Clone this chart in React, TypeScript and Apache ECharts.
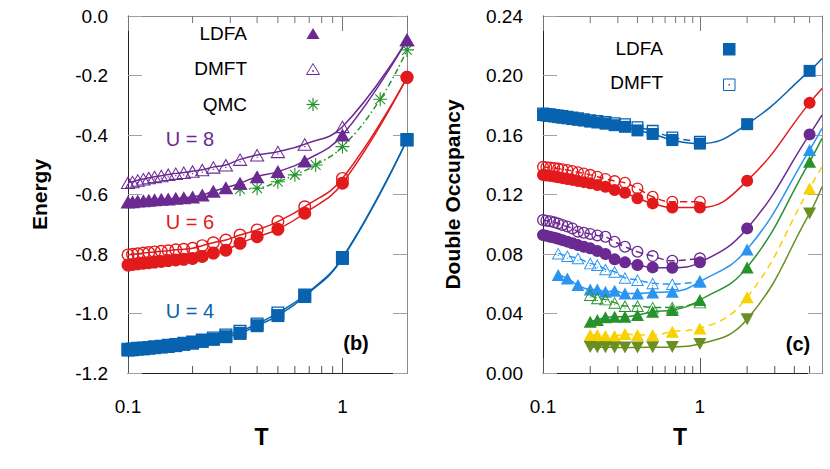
import React, { useEffect, useRef } from 'react';
import * as echarts from 'echarts';

const FONT = "'Liberation Sans', Arial, Helvetica, sans-serif";

// ---------- colours ----------
const BLUE = '#0763b0';
const RED = '#e31a1c';
const PURPLE = '#6a2a92';
const GREEN = '#26922c';
const LBLUE = '#2a95f0';
const YELLOW = '#f9d000';
const OLIVE = '#6b8e23';

// ---------- panel (b): Energy vs T ----------
const T_B = [0.1, 0.105, 0.111, 0.118, 0.125, 0.133, 0.143, 0.154, 0.167, 0.182, 0.2, 0.222, 0.25, 0.286, 0.333, 0.4, 0.5, 0.667, 1, 2];
const T_QMC = [0.333, 0.4, 0.5, 0.6, 0.75, 1, 1.5, 2];

const E_U8_DMFT = [-0.56, -0.557, -0.552, -0.548, -0.544, -0.54, -0.537, -0.533, -0.529, -0.526, -0.522, -0.517, -0.508, -0.501, -0.482, -0.467, -0.456, -0.431, -0.372, -0.08];
const E_U8_LDFA = [-0.625, -0.624, -0.622, -0.621, -0.619, -0.618, -0.616, -0.615, -0.613, -0.611, -0.608, -0.602, -0.589, -0.577, -0.562, -0.54, -0.523, -0.487, -0.4, -0.08];
const E_U8_QMC = [-0.582, -0.579, -0.557, -0.534, -0.501, -0.439, -0.28, -0.114];
const E_U6_DMFT = [-0.803, -0.801, -0.799, -0.797, -0.795, -0.793, -0.791, -0.789, -0.786, -0.784, -0.781, -0.772, -0.762, -0.753, -0.736, -0.719, -0.691, -0.641, -0.546, -0.206];
const E_U6_LDFA = [-0.837, -0.835, -0.833, -0.831, -0.829, -0.827, -0.825, -0.822, -0.82, -0.818, -0.815, -0.808, -0.797, -0.787, -0.764, -0.742, -0.717, -0.663, -0.562, -0.206];
const E_U4_DMFT = [-1.12, -1.119, -1.117, -1.116, -1.114, -1.112, -1.11, -1.107, -1.104, -1.1, -1.096, -1.089, -1.082, -1.072, -1.06, -1.035, -0.998, -0.938, -0.812, -0.415];
const E_U4_LDFA = [-1.123, -1.122, -1.12, -1.119, -1.117, -1.115, -1.113, -1.111, -1.108, -1.104, -1.1, -1.094, -1.087, -1.078, -1.067, -1.041, -1.007, -0.943, -0.815, -0.417];

// ---------- panel (c): Double occupancy vs T ----------
const T_C = [0.1, 0.105, 0.111, 0.118, 0.125, 0.133, 0.143, 0.154, 0.167, 0.182, 0.2, 0.222, 0.25, 0.286, 0.333, 0.4, 0.5, 0.667, 1, 2, 5];
const T_C_DMFT = [0.1, 0.105, 0.111, 0.118, 0.125, 0.133, 0.143, 0.154, 0.167, 0.182, 0.2, 0.222, 0.25, 0.286, 0.333, 0.4, 0.5, 0.667, 1];
const T_C_MID = [0.125, 0.143, 0.167, 0.2, 0.222, 0.25, 0.286, 0.333, 0.4, 0.5, 0.667, 1, 2, 5];
const T_C_MID_DMFT = [0.125, 0.143, 0.167, 0.2, 0.222, 0.25, 0.286, 0.333, 0.4, 0.5, 0.667, 1];
const T_C_LOW = [0.2, 0.222, 0.25, 0.286, 0.333, 0.4, 0.5, 0.667, 1, 2, 5];
const T_C_LOW_DMFT = [0.2, 0.222, 0.25, 0.286, 0.333, 0.4, 0.5, 0.667, 1];
const T_EDGE = 6;

const D_BLUE_LDFA = [0.1734, 0.1731, 0.1728, 0.1724, 0.172, 0.1716, 0.1712, 0.1707, 0.1702, 0.1697, 0.169, 0.1684, 0.1676, 0.1666, 0.1655, 0.1631, 0.1607, 0.1566, 0.1542, 0.1673, 0.2031];
const D_BLUE_DMFT = [0.1745, 0.1742, 0.1739, 0.1735, 0.1731, 0.1727, 0.1722, 0.1717, 0.1712, 0.1706, 0.17, 0.1694, 0.1687, 0.1679, 0.1672, 0.1652, 0.1628, 0.1584, 0.1555];
const D_RED_LDFA = [0.1331, 0.1328, 0.1325, 0.1321, 0.1316, 0.131, 0.1304, 0.1298, 0.129, 0.1283, 0.1275, 0.1264, 0.1252, 0.123, 0.1212, 0.1174, 0.114, 0.1113, 0.1113, 0.1292, 0.1816];
const D_RED_DMFT = [0.1386, 0.1384, 0.1381, 0.1378, 0.1374, 0.137, 0.1365, 0.1358, 0.135, 0.1342, 0.1332, 0.132, 0.1305, 0.129, 0.1279, 0.1241, 0.1185, 0.1151, 0.1151];
const D_PURPLE_LDFA = [0.0927, 0.0922, 0.0916, 0.091, 0.0902, 0.0893, 0.0883, 0.0872, 0.086, 0.0849, 0.0838, 0.082, 0.08, 0.0764, 0.0744, 0.0726, 0.071, 0.0708, 0.0744, 0.0972, 0.1604];
const D_PURPLE_DMFT = [0.1028, 0.1024, 0.102, 0.1013, 0.1005, 0.0995, 0.0985, 0.0972, 0.095, 0.0943, 0.0935, 0.0925, 0.0916, 0.0882, 0.0849, 0.0815, 0.0786, 0.0755, 0.0771];
const D_LBLUE_LDFA = [0.0659, 0.0636, 0.0591, 0.0562, 0.0562, 0.0546, 0.0553, 0.0535, 0.0535, 0.0542, 0.0546, 0.0614, 0.0831, 0.1499];
const D_LBLUE_DMFT = [0.0804, 0.0786, 0.0771, 0.0737, 0.0726, 0.0697, 0.0681, 0.064, 0.0625, 0.0603, 0.0598, 0.0618];
const D_GREEN_LDFA = [0.0345, 0.0356, 0.0374, 0.0378, 0.0378, 0.039, 0.0412, 0.0423, 0.049, 0.071, 0.142];
const D_GREEN_DMFT = [0.0524, 0.0502, 0.0495, 0.0473, 0.045, 0.045, 0.0441, 0.0441, 0.0475];
const D_YELLOW = [0.0255, 0.0255, 0.0249, 0.0249, 0.0262, 0.0255, 0.0255, 0.0278, 0.03, 0.0509, 0.1241];
const D_OLIVE = [0.0175, 0.0173, 0.0173, 0.0172, 0.0172, 0.0172, 0.0173, 0.0175, 0.0195, 0.0361, 0.1073];
// where the curves leave the frame at T = 6
const D_TAIL = { blue: 0.2115, red: 0.1913, purple: 0.1734, lblue: 0.1644, green: 0.1577, yellow: 0.1386, olive: 0.1252 };

// ---------- axes ----------
const X_LABELS = ['0.1', '1'];
const X_MAJOR = [0.1, 1];
const MINOR_B = [0.2, 0.3, 0.4, 0.5, 0.6, 0.7, 0.8, 0.9];
const MINOR_C = [0.2, 0.3, 0.4, 0.5, 0.6, 0.7, 0.8, 0.9, 2, 3, 4, 5];
const B_X = [0.1, 2];
const C_X = [0.1, 6];
const B_Y = [-1.2, 0];
const C_Y = [0, 0.24];

// ---------- symbols ----------
const SYM_OPEN_TRI_DOT = 'path://M50 0L100 87L0 87ZM50 14L12 80L88 80ZM46 55L54 55L54 63L46 63Z';
const SYM_OPEN_SQ = 'path://M0 0L100 0L100 100L0 100ZM11 11L11 89L89 89L89 11Z';
const SYM_OPEN_SQ_DOT = 'path://M0 0L100 0L100 100L0 100ZM11 11L11 89L89 89L89 11ZM44 44L56 44L56 56L44 56Z';
const SYM_OPEN_CIRC = 'path://M0 50A50 50 0 1 1 100 50A50 50 0 1 1 0 50ZM11 50A39 39 0 1 0 89 50A39 39 0 1 0 11 50Z';
const SYM_STAR = 'path://M46 0L54 0L54 100L46 100ZM0 46L100 46L100 54L0 54ZM12.2 17.8L17.8 12.2L87.8 82.2L82.2 87.8ZM82.2 12.2L87.8 17.8L17.8 87.8L12.2 82.2Z';

function pts(ts: number[], vs: number[], tail?: number) {
  const d: any[] = ts.map((t, i) => [t, vs[i]]);
  if (tail !== undefined) d.push({ value: [T_EDGE, tail], symbol: 'none' });
  return d;
}

function ser(name: string, panel: number, data: any[], color: string, symbol: string, size: any, dash?: any, rotate = 0) {
  return {
    type: 'line',
    name,
    xAxisIndex: panel * 2,
    yAxisIndex: panel * 2,
    data,
    smooth: 0.45,
    clip: false,
    symbol,
    symbolSize: size,
    symbolRotate: rotate,
    showAllSymbol: true,
    lineStyle: { color, width: 1.5, type: dash || 'solid' },
    itemStyle: { color, borderWidth: 0 },
    emphasis: { disabled: true },
    z: 3,
  };
}

function minorTicks(panel: number, values: number[], yr: number[]) {
  return {
    type: 'custom',
    xAxisIndex: panel * 2,
    yAxisIndex: panel * 2,
    silent: true,
    clip: false,
    data: values.map((v) => [v, yr[0]]),
    renderItem: (params: any, api: any) => {
      const v = api.value(0);
      const b = api.coord([v, yr[0]]);
      const t = api.coord([v, yr[1]]);
      return {
        type: 'group',
        children: [
          { type: 'line', shape: { x1: b[0], y1: b[1], x2: b[0], y2: b[1] - 7 }, style: { stroke: '#555', lineWidth: 1 } },
          { type: 'line', shape: { x1: t[0], y1: t[1], x2: t[0], y2: t[1] + 7 }, style: { stroke: '#777', lineWidth: 1 } },
        ],
      };
    },
    z: 1,
  };
}

function xAxes(grid: number, range: number[]) {
  const fmt = (v: number) => {
    for (let i = 0; i < X_MAJOR.length; i++) if (Math.abs(v - X_MAJOR[i]) < 1e-6) return X_LABELS[i];
    return '';
  };
  return [
    {
      type: 'log', logBase: 10, gridIndex: grid, position: 'bottom', min: range[0], max: range[1],
      name: 'T', nameLocation: 'middle', nameGap: 52,
      nameTextStyle: { fontFamily: FONT, fontWeight: 'bold', fontSize: 23, color: '#000', padding: grid === 0 ? [0, 12, 0, 0] : [0, 5, 0, 0] },
      axisLine: { onZero: false, lineStyle: { color: '#222', width: 1 } },
      axisTick: { inside: true, length: 15, lineStyle: { color: '#555' } },
      minorTick: { show: false },
      splitLine: { show: false },
      axisLabel: { formatter: fmt, fontFamily: FONT, fontSize: 19, color: '#000', margin: 24, showMaxLabel: false },
    },
    {
      type: 'log', logBase: 10, gridIndex: grid, position: 'top', min: range[0], max: range[1],
      axisLine: { onZero: false, lineStyle: { color: '#8a8a8a', width: 1 } },
      axisTick: { inside: true, length: 15, lineStyle: { color: '#777' } },
      splitLine: { show: false },
      axisLabel: { show: false },
    },
  ];
}

function yAxes(grid: number, range: number[], interval: number, digits: number, name: string, gap: number) {
  return [
    {
      type: 'value', gridIndex: grid, position: 'left', min: range[0], max: range[1], interval,
      name, nameLocation: 'middle', nameGap: gap,
      nameTextStyle: { fontFamily: FONT, fontWeight: 'bold', fontSize: 21, color: '#000' },
      axisLine: { onZero: false, lineStyle: { color: '#222', width: 1 } },
      axisTick: { inside: true, length: 14, lineStyle: { color: '#a0a0a0' } },
      splitLine: { show: false },
      axisLabel: { formatter: (v: number) => v.toFixed(digits), fontFamily: FONT, fontSize: 19, color: '#000', margin: 20 },
    },
    {
      type: 'value', gridIndex: grid, position: 'right', min: range[0], max: range[1], interval,
      axisLine: { show: true, onZero: false, lineStyle: { color: '#8a8a8a', width: 1 } },
      axisTick: { inside: true, length: 14, lineStyle: { color: '#a0a0a0' } },
      splitLine: { show: false },
      axisLabel: { show: false },
    },
  ];
}

function txt(text: string, x: number, y: number, color: string, size: number, bold = false, align = 'center') {
  return {
    type: 'text', x, y, silent: true, z: 10,
    style: { text, fill: color, font: `${bold ? 'bold ' : ''}${size}px ${FONT}`, textAlign: align, textVerticalAlign: 'middle' },
  };
}

export default function App() {
  const ref = useRef<HTMLDivElement>(null);
  useEffect(() => {
    if (!ref.current) return;
    const chart = echarts.init(ref.current, undefined, { renderer: 'svg' });
    const series: any[] = [
      minorTicks(0, MINOR_B, B_Y),
      minorTicks(1, MINOR_C, C_Y),
      // panel (b)
      ser('U=4 DMFT', 0, pts(T_B, E_U4_DMFT), BLUE, SYM_OPEN_SQ, 13),
      ser('U=4 LDFA', 0, pts(T_B, E_U4_LDFA), BLUE, 'rect', 13),
      ser('U=6 DMFT', 0, pts(T_B, E_U6_DMFT), RED, SYM_OPEN_CIRC, 13),
      ser('U=6 LDFA', 0, pts(T_B, E_U6_LDFA), RED, 'circle', 13),
      ser('U=8 QMC', 0, pts(T_QMC, E_U8_QMC), GREEN, SYM_STAR, 14, [6, 3, 1.5, 3]),
      ser('U=8 DMFT', 0, pts(T_B, E_U8_DMFT), PURPLE, SYM_OPEN_TRI_DOT, [15, 13]),
      ser('U=8 LDFA', 0, pts(T_B, E_U8_LDFA), PURPLE, 'triangle', [15, 13]),
      // panel (c)
      ser('blue DMFT', 1, pts(T_C_DMFT, D_BLUE_DMFT), BLUE, SYM_OPEN_SQ_DOT, 12, [7, 4]),
      ser('blue LDFA', 1, pts(T_C, D_BLUE_LDFA, D_TAIL.blue), BLUE, 'rect', 12),
      ser('red DMFT', 1, pts(T_C_DMFT, D_RED_DMFT), RED, SYM_OPEN_CIRC, 12, [7, 4]),
      ser('red LDFA', 1, pts(T_C, D_RED_LDFA, D_TAIL.red), RED, 'circle', 12),
      ser('purple DMFT', 1, pts(T_C_DMFT, D_PURPLE_DMFT), PURPLE, SYM_OPEN_CIRC, 12, [7, 4]),
      ser('purple LDFA', 1, pts(T_C, D_PURPLE_LDFA, D_TAIL.purple), PURPLE, 'circle', 12),
      ser('lblue DMFT', 1, pts(T_C_MID_DMFT, D_LBLUE_DMFT), LBLUE, SYM_OPEN_TRI_DOT, [13, 12], [7, 4]),
      ser('lblue LDFA', 1, pts(T_C_MID, D_LBLUE_LDFA, D_TAIL.lblue), LBLUE, 'triangle', [13, 12]),
      ser('green DMFT', 1, pts(T_C_LOW_DMFT, D_GREEN_DMFT), GREEN, SYM_OPEN_TRI_DOT, [13, 12], [7, 4]),
      ser('green LDFA', 1, pts(T_C_LOW, D_GREEN_LDFA, D_TAIL.green), GREEN, 'triangle', [13, 12]),
      ser('yellow', 1, pts(T_C_LOW, D_YELLOW, D_TAIL.yellow), YELLOW, 'triangle', [13, 12], [7, 5]),
      ser('olive', 1, pts(T_C_LOW, D_OLIVE, D_TAIL.olive), OLIVE, 'triangle', [13, 12], undefined, 180),
    ];

    const graphic: any[] = [
      // panel (b) legend
      txt('LDFA', 247, 33, '#000', 19, false, 'right'),
      txt('DMFT', 247, 68, '#000', 19, false, 'right'),
      txt('QMC', 247, 104, '#000', 19, false, 'right'),
      { type: 'polygon', silent: true, shape: { points: [[313, 28], [319.5, 39], [306.5, 39]] }, style: { fill: PURPLE } },
      { type: 'polygon', silent: true, shape: { points: [[313, 63.5], [319.5, 74.5], [306.5, 74.5]] }, style: { fill: 'none', stroke: PURPLE, lineWidth: 1 } },
      { type: 'circle', silent: true, shape: { cx: 313, cy: 71, r: 0.9 }, style: { fill: PURPLE } },
      { type: 'line', silent: true, shape: { x1: 313, y1: 98, x2: 313, y2: 111 }, style: { stroke: GREEN, lineWidth: 1.2 } },
      { type: 'line', silent: true, shape: { x1: 306.5, y1: 104.5, x2: 319.5, y2: 104.5 }, style: { stroke: GREEN, lineWidth: 1.2 } },
      { type: 'line', silent: true, shape: { x1: 308.4, y1: 99.9, x2: 317.6, y2: 109.1 }, style: { stroke: GREEN, lineWidth: 1.2 } },
      { type: 'line', silent: true, shape: { x1: 317.6, y1: 99.9, x2: 308.4, y2: 109.1 }, style: { stroke: GREEN, lineWidth: 1.2 } },
      txt('U = 8', 190, 139, PURPLE, 20),
      txt('U = 6', 190, 222, RED, 20),
      txt('U = 4', 190, 311, BLUE, 20),
      txt('(b)', 356, 343, '#000', 20, true),
      // panel (c) legend
      txt('LDFA', 663, 48, '#000', 19, false, 'right'),
      txt('DMFT', 663, 82, '#000', 19, false, 'right'),
      { type: 'rect', silent: true, shape: { x: 723, y: 43, width: 12.5, height: 12.5 }, style: { fill: BLUE } },
      { type: 'rect', silent: true, shape: { x: 723.5, y: 79, width: 11.5, height: 11.5 }, style: { fill: 'none', stroke: BLUE, lineWidth: 1 } },
      { type: 'rect', silent: true, shape: { x: 728.5, y: 84, width: 1.5, height: 1.5 }, style: { fill: BLUE } },
      txt('(c)', 798, 344, '#000', 20, true),
    ];

    chart.setOption({
      animation: false,
      backgroundColor: '#fff',
      textStyle: { fontFamily: FONT },
      grid: [
        { left: 128, top: 16, width: 279, height: 357 },
        { left: 543, top: 16, width: 279, height: 357 },
      ],
      xAxis: [...xAxes(0, B_X), ...xAxes(1, C_X)],
      yAxis: [
        ...yAxes(0, B_Y, 0.2, 1, 'Energy', 78),
        ...yAxes(1, C_Y, 0.04, 2, 'Double Occupancy', 80),
      ],
      series,
      graphic,
    });
    return () => chart.dispose();
  }, []);
  return <div ref={ref} style={{ position: 'fixed', left: 0, top: 0, width: 830, height: 469, background: '#fff' }} />;
}
